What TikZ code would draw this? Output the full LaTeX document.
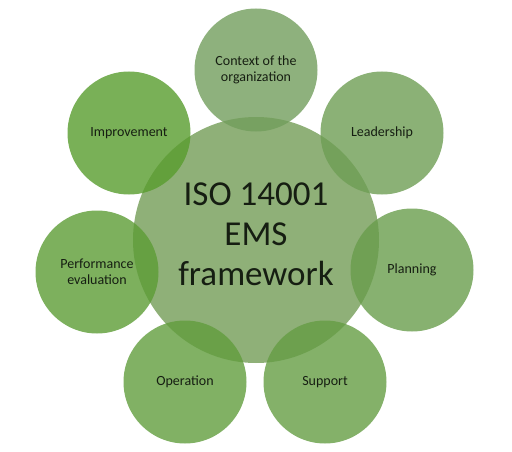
\documentclass[tikz,border=0pt]{standalone}
\usepackage{fontspec}
\setmainfont{Carlito}
\definecolor{hubgreen}{RGB}{143,176,120}
\definecolor{spokegray}{RGB}{114,158,92}
\definecolor{spokegreen}{RGB}{88,156,45}
\definecolor{ink}{RGB}{22,30,18}
\begin{document}
\begin{tikzpicture}[x=1pt, y=1pt, line join=round, line cap=round,
	hub/.style={circle, fill=hubgreen, minimum size=246pt, inner sep=0pt},
	hubtext/.style={align=center, text=ink, inner sep=0pt, font=\fontsize{35}{40}\selectfont},
	spoke/.style={circle, minimum size=123pt, inner sep=0pt, align=center, text=ink, fill opacity=0.8, text opacity=1, font=\fontsize{14}{16}\selectfont}]
	\useasboundingbox (0,0) rectangle (512,451);
	\node[hub] (ems) at (256,211) {};
	\node[hubtext] (emstext) at ([yshift=6pt]ems.center) {ISO 14001\\EMS\\framework};
	% outer ring, clockwise from the top
	\foreach \n/\x/\y/\p/\t in {ctx/256/381/100/{Context of the\\organization}, lead/382/318/83/{Leadership}, plan/412/181/67/{Planning}, supp/325/69/50/{Support}, oper/185/69/33/{Operation}, perf/97/179/17/{Performance\\evaluation}, impr/129/318/0/{Improvement}}
	\node[spoke, fill=spokegray!\p!spokegreen] (\n) at (\x,\y) {\t};
\end{tikzpicture}
\end{document}
